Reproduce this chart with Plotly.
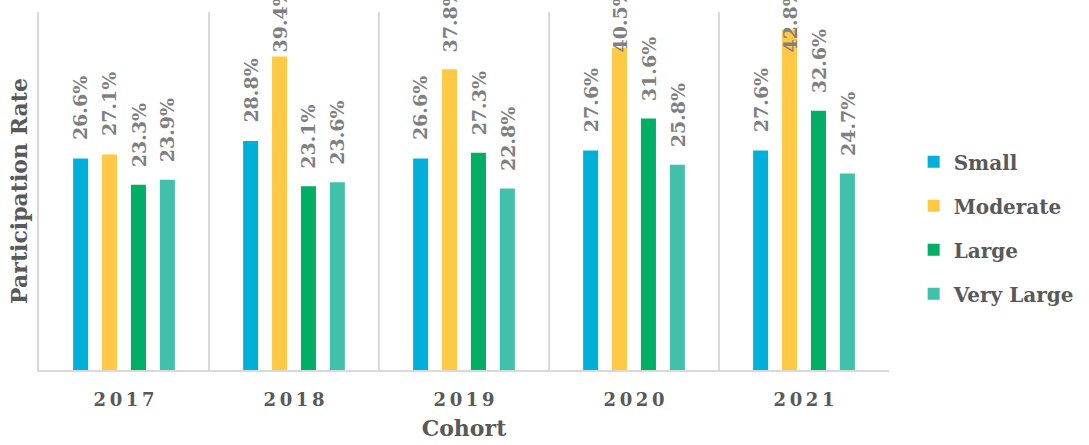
import plotly.graph_objects as go

# Participation rate (%) by cohort and size group
cohorts = ["2017", "2018", "2019", "2020", "2021"]
series_names = ["Small", "Moderate", "Large", "Very Large"]
small = [26.6, 28.8, 26.6, 27.6, 27.6]
moderate = [27.1, 39.4, 37.8, 40.5, 42.8]
large = [23.3, 23.1, 27.3, 31.6, 32.6]
very_large = [23.9, 23.6, 22.8, 25.8, 24.7]

colors = ["#00B0D8", "#FFC845", "#00AE66", "#41C0AC"]
values = [small, moderate, large, very_large]

FONT = "DejaVu Serif"
LABEL_GREY = "#7F7F7F"
TEXT_GREY = "#595959"

BARGAP = 0.32
Y_MAX = 45

fig = go.Figure()
for name, vals, col in zip(series_names, values, colors):
    fig.add_trace(go.Bar(
        name=name, x=cohorts, y=vals,
        marker=dict(color=col, line=dict(width=0)),
        legendgroup=name,
    ))

# Rotated value labels above each bar, kept inside the top of the chart
slot = (1 - BARGAP) / len(values)
annotations = []
for s, vals in enumerate(values):
    offset = (s - (len(values) - 1) / 2) * slot
    for i, v in enumerate(vals):
        annotations.append(dict(
            x=i + offset, y=min(v + 2.0, 39.6), xref="x", yref="y",
            text=f"{v:.1f}%", showarrow=False, textangle=-90,
            xanchor="center", yanchor="bottom",
            font=dict(family=FONT, size=19, color=LABEL_GREY, weight="bold"),
        ))

fig.update_layout(
    width=1089, height=445,
    margin=dict(l=39, r=200, t=12, b=75, autoexpand=False),
    paper_bgcolor="white", plot_bgcolor="white",
    barmode="group", bargap=BARGAP, bargroupgap=0.48,
    font=dict(family=FONT, color=TEXT_GREY),
    annotations=annotations,
    legend=dict(
        x=1.029, y=0.397, xanchor="left", yanchor="middle",
        font=dict(family=FONT, size=20, color=TEXT_GREY, weight="bold"),
        tracegroupgap=15, traceorder="grouped",
    ),
    xaxis=dict(
        type="category",
        tickmode="array", tickvals=cohorts,
        ticktext=["\u2009".join(c) for c in cohorts],
        tickfont=dict(family=FONT, size=18, color=TEXT_GREY, weight="bold"),
        tickson="boundaries", ticks="", ticklabelstandoff=12,
        showgrid=True, gridcolor="#D9D9D9", gridwidth=1.5,
        showline=True, linecolor="#D9D9D9", linewidth=2,
        range=[-0.5, len(cohorts) - 0.5],
        title=dict(text="Cohort", standoff=12,
                   font=dict(family=FONT, size=22, color=TEXT_GREY, weight="bold")),
    ),
    yaxis=dict(
        range=[0, Y_MAX], showticklabels=False, showgrid=False, zeroline=False,
        showline=True, linecolor="#D9D9D9", linewidth=1.5, ticks="",
        title=dict(text="Participation Rate", standoff=4,
                   font=dict(family=FONT, size=22, color=TEXT_GREY, weight="bold")),
    ),
)

fig.write_html("out.html")
